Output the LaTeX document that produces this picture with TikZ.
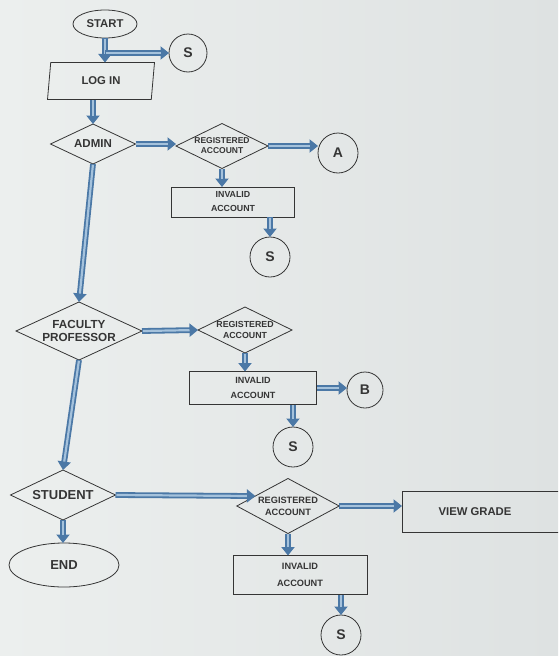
\documentclass[tikz,border=0pt]{standalone}
\usepackage{fontspec}
\setmainfont{Liberation Sans}
\usetikzlibrary{shapes.geometric,arrows.meta}
\definecolor{paperA}{HTML}{ECEFEE}
\definecolor{paperB}{HTML}{DEE2E2}
\definecolor{ink}{HTML}{353535}
\definecolor{flowdark}{HTML}{4B78A6}
\definecolor{flowlight}{HTML}{A5C2DC}
\newcommand{\fs}[2]{\fontsize{#1}{#2}\selectfont\bfseries}
\begin{document}
\begin{tikzpicture}[x=1pt,y=-1pt,
  shp/.style={draw=ink, line width=0.8pt, text=ink, inner sep=0pt, outer sep=0pt, align=center},
  term/.style={shp, ellipse},
  conn/.style={shp, circle, minimum size=40, font=\fs{14}{16}},
  dec/.style={shp, diamond, aspect=2},
  proc/.style={shp, rectangle},
  flow/.style={draw=flowdark, line width=5.8pt, -{Triangle[length=8.5pt,width=13pt,fill=flowdark]},
    postaction={draw=flowlight, line width=2.2pt, -, shorten >=8.5pt, shorten <=0.8pt}}
]
% paper
\shade[left color=paperA, right color=paperB] (0,0) rectangle (558,656);
\useasboundingbox (0,0) rectangle (558,656);
\clip (0,0) rectangle (558,656);

% top: start, login, admin branch
\node[term, minimum width=64, minimum height=28, font=\fs{11.3}{13}] (start) at (105,24) {START};
\node[conn, minimum size=38] (s1) at (188,53) {S};
\node[shp, trapezium, trapezium left angle=68, trapezium right angle=112,
      trapezium stretches body, minimum width=107, minimum height=37, font=\fs{11.3}{13}] (login) at (101,81) {LOG IN};
\node[dec, minimum width=85, minimum height=40, font=\fs{11.5}{13}] (admin) at (93,144) {ADMIN};
\node[dec, minimum width=92, minimum height=45, font=\fs{8.5}{10}] (reg1) at (222,146) {REGISTERED\\ACCOUNT};
\node[conn] (a) at (338,153) {A};
\node[proc, minimum width=123, minimum height=30, font=\fs{8.8}{14}] (inv1) at (233,202) {INVALID\\ACCOUNT};
\node[conn] (s2) at (270,257) {S};

% faculty branch
\node[dec, minimum width=126, minimum height=58, font=\fs{11.7}{13}] (fac) at (79,331) {FACULTY\\PROFESSOR};
\node[dec, minimum width=94, minimum height=46, font=\fs{8.8}{11}] (reg2) at (245,330) {REGISTERED\\ACCOUNT};
\node[proc, minimum width=127, minimum height=33, font=\fs{9}{15}] (inv2) at (253,388) {INVALID\\ACCOUNT};
\node[conn, minimum size=36] (b) at (365,390) {B};
\node[conn] (s3) at (293,447) {S};

% student branch
\node[dec, minimum width=105, minimum height=50, font=\fs{13}{15}] (stu) at (63,495) {STUDENT};
\node[dec, minimum width=98, minimum height=55, font=\fs{9.2}{12}, aspect=2.3] (reg3) at (288,506) {REGISTERED\\ACCOUNT};
\node[proc, minimum width=166, minimum height=41, font=\fs{11.3}{13}] (vg) at (485,512) {VIEW GRADE\hspace*{20pt}};
\node[proc, minimum width=134, minimum height=39, font=\fs{9.2}{17}] (inv3) at (300,575) {INVALID\\ACCOUNT};
\node[conn] (s4) at (341,635) {S};
\node[term, minimum width=110, minimum height=44, font=\fs{13}{15}] (end) at (64,565) {END};

% connectors
\draw[flow] (start.south) -- (start.south |- login.north);
\draw[flow] (start.south |- s1.west) -- (s1.west);
\draw[flow] (admin.north |- login.south) -- (admin.north);
\draw[flow] (admin.east) -- (admin.east -| reg1.west);
\draw[flow] (reg1.east) -- (reg1.east -| a.west);
\draw[flow] (reg1.south) -- (reg1.south |- inv1.north);
\draw[flow] (s2.north |- inv1.south) -- (s2.north);
\draw[flow] (admin.south) -- (fac.north);

\draw[flow] (fac.east) -- (reg2.west);
\draw[flow] (reg2.south) -- (reg2.south |- inv2.north);
\draw[flow] (inv2.east) -- (inv2.east -| b.west);
\draw[flow] (s3.north |- inv2.south) -- (s3.north);
\draw[flow] (fac.south) -- (stu.north);

\draw[flow] (stu.east) -- (reg3.163);
\draw[flow] (reg3.east) -- (reg3.east -| vg.west);
\draw[flow] (reg3.south) -- (reg3.south |- inv3.north);
\draw[flow] (s4.north |- inv3.south) -- (s4.north);
\draw[flow] (stu.south) -- (stu.south |- end.north);
\end{tikzpicture}
\end{document}
